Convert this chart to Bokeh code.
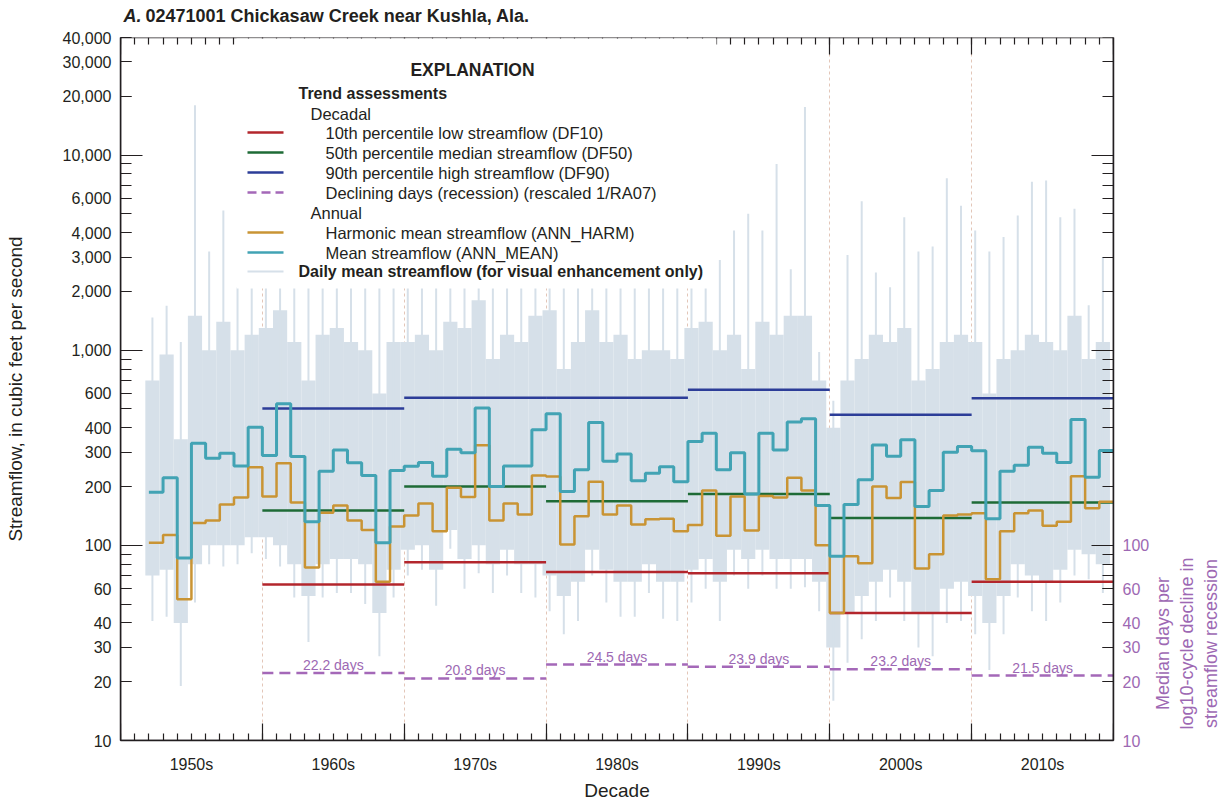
import math
from bokeh.plotting import figure
from bokeh.layouts import row, column
from bokeh.models import (Range1d, LinearAxis, LogAxis, FixedTicker, Label,
                          BoxAnnotation, Arrow, ColumnDataSource)
from bokeh.core.properties import value
from bokeh.embed import file_html
from bokeh.resources import INLINE

# ---------------- data ----------------
years = list(range(1952, 2020))
ann_mean = [187, 222, 86, 333, 279, 296, 255, 403, 289, 531, 285, 132, 240, 308, 265, 228, 103, 242, 254,
            266, 226, 311, 298, 506, 200, 255, 255, 391, 472, 189, 244, 426, 270, 294, 214, 234, 253, 212, 340,
            375, 244, 298, 183, 375, 308, 429, 445, 160, 88, 162, 217, 327, 286, 348, 158, 191, 300, 321, 305,
            137, 240, 257, 318, 296, 266, 441, 223, 306]
ann_harm = [103, 113, 53, 130, 134, 162, 176, 251, 178, 263, 166, 77, 147, 160, 134, 120, 65, 125, 142,
            164, 118, 197, 177, 326, 134, 164, 144, 228, 225, 101, 141, 212, 144, 160, 128, 136, 137, 118, 127,
            191, 112, 178, 119, 179, 176, 222, 191, 100, 45, 88, 81, 200, 175, 211, 76, 90, 142, 144, 146,
            67, 118, 146, 151, 126, 132, 226, 155, 167]
# daily mean streamflow envelope per water year
daily_peak = [1470, 1690, 1100, 18000, 3200, 5200, 2100, 2200, 2200, 2200,
              2200, 2200, 2200, 2200, 2200, 2200, 2200, 2200, 2200, 2200,
              2200, 2200, 2200, 2200, 2200, 2200, 2200, 2200, 2200, 2200,
              2200, 2200, 2200, 2200, 2200, 2200, 2200, 2200, 2200, 2200,
              2900, 4100, 5000, 4100, 9000, 2600, 17600, 980, 550, 3070,
              5800, 2500, 2100, 4800, 3200, 3400, 7600, 5500, 4100, 3200,
              3800, 4900, 7300, 7400, 4800, 5300, 1700, 3000]
daily_core_hi = [700, 950, 350, 1500, 1000, 1400, 1000, 1200, 1300, 1600,
                 1100, 700, 1200, 1300, 1100, 1000, 600, 1100, 1100, 1200,
                 1000, 1400, 1300, 1800, 900, 1200, 1100, 1500, 1600, 800,
                 1100, 1600, 1100, 1200, 900, 1000, 1000, 900, 1300, 1400,
                 1000, 1200, 800, 1400, 1200, 1500, 1500, 700, 400, 700,
                 900, 1200, 1100, 1300, 700, 800, 1100, 1200, 1100, 600,
                 900, 1000, 1200, 1100, 1000, 1500, 900, 1100]
daily_core_lo = [70, 75, 40, 80, 100, 100, 100, 110, 110, 100,
                 80, 55, 80, 85, 85, 80, 45, 75, 95, 100,
                 75, 120, 85, 100, 80, 95, 80, 80, 70, 55,
                 65, 95, 75, 65, 65, 80, 65, 65, 75, 85,
                 65, 95, 85, 95, 85, 85, 85, 65, 30, 45,
                 55, 65, 75, 65, 45, 45, 60, 65, 55, 40,
                 55, 80, 70, 65, 75, 95, 90, 80]
daily_low = [41, 43, 19, 51, 80, 78, 80, 91, 85, 78,
             54, 32, 54, 57, 57, 50, 27, 54, 70, 75,
             49, 96, 60, 72, 57, 70, 57, 54, 46, 35,
             41, 70, 51, 43, 43, 57, 42, 41, 51, 60,
             41, 70, 60, 70, 60, 60, 61, 46, 16, 25,
             33, 41, 54, 41, 30, 27, 40, 41, 35, 23,
             35, 54, 46, 41, 51, 70, 67, 57]

decade_names = ["1950s", "1960s", "1970s", "1980s", "1990s", "2000s", "2010s"]
decade_starts = [1950, 1960, 1970, 1980, 1990, 2000, 2010]
trend_decades = [1960, 1970, 1980, 1990, 2000, 2010]
df10 = [63, 82, 73, 72, 45, 65]
df50 = [151, 200, 168, 183, 138, 166]
df90 = [502, 570, 570, 627, 467, 567]
recession_days = [22.2, 20.8, 24.5, 23.9, 23.2, 21.5]

y_ticks = [10, 20, 30, 40, 50, 60, 70, 80, 90,
           100, 200, 300, 400, 500, 600, 700, 800, 900,
           1000, 2000, 3000, 4000, 5000, 6000, 7000, 8000, 9000,
           10000, 20000, 30000, 40000]
y_decade_ticks = [10, 100, 1000, 10000]
y_labeled = [10, 20, 30, 40, 60, 100, 200, 300, 400, 600, 1000, 2000, 3000, 4000, 6000,
             10000, 20000, 30000, 40000]
right_labeled = [10, 20, 30, 40, 60, 100]

title_letter = "A."
title_text = "02471001 Chickasaw Creek near Kushla, Ala."
left_title = "Streamflow, in cubic feet per second"
right_title = "Median days per\nlog10-cycle decline in\nstreamflow recession"

# ---------------- styles ----------------
SANS = "Liberation Sans"
INK = "#231f20"
C_RED = "#b3262c"
C_GREEN = "#1e6b36"
C_BLUE = "#2c3d98"
C_PURPLE = "#a468b8"
C_PTEXT = "#9d68b3"
C_GOLD = "#c99434"
C_TEAL = "#42a3b4"
C_DAILY = "#d6e0e9"
C_GRID = "#e3c6b8"

X0, X1 = 1950, 2020
Y0, Y1 = 10, 40000
MAIN_W, SIDE_W, TITLE_H, TOTAL_H = 1152, 76, 30, 803
FRAME_L = 120


def blank_fig(w, h):
    f = figure(width=w, height=h, x_range=Range1d(0, 1), y_range=Range1d(0, 1),
               output_backend="svg", toolbar_location=None, title=None,
               x_axis_location=None, y_axis_location=None, min_border=0)
    f.outline_line_color = None
    f.background_fill_color = "white"
    f.border_fill_color = "white"
    for g in f.grid:
        g.visible = False
    return f


# ---------------- main figure ----------------
p = figure(width=MAIN_W, height=TOTAL_H - TITLE_H, y_axis_type="log",
           x_range=Range1d(X0, X1), y_range=Range1d(Y0, Y1),
           output_backend="svg", toolbar_location=None, title=None,
           min_border_left=FRAME_L, min_border_right=MAIN_W - 1113,
           min_border_top=37 - TITLE_H, min_border_bottom=63)
p.outline_line_color = None
p.background_fill_color = "white"
p.border_fill_color = "white"

# grid: decade boundaries dashed
p.ygrid.visible = False
p.xgrid.ticker = FixedTicker(ticks=decade_starts[1:])
p.xgrid.grid_line_color = C_GRID
p.xgrid.grid_line_dash = "3 3"
p.xgrid.grid_line_width = 1

# ---------------- daily envelope ----------------
dsrc = ColumnDataSource(dict(left=[y - 0.25 for y in years], right=[y + 0.75 for y in years],
                             mid=[y + 0.25 for y in years],
                             lo=daily_core_lo, hi=daily_core_hi,
                             peak=daily_peak, low=daily_low))
p.quad(left="left", right="right", bottom="lo", top="hi", source=dsrc,
       fill_color=C_DAILY, line_color=None)
p.segment(x0="mid", x1="mid", y0="low", y1="peak", source=dsrc,
          line_color=C_DAILY, line_width=2)

# ---------------- decadal trends ----------------
tsrc = ColumnDataSource(dict(x0=trend_decades, x1=[d + 10 for d in trend_decades],
                             mid=[d + 5 for d in trend_decades],
                             df10=df10, df50=df50, df90=df90, rec=recession_days,
                             rec_txt=[f"{v} days" for v in recession_days]))
p.segment(x0="x0", x1="x1", y0="df10", y1="df10", source=tsrc, line_color=C_RED, line_width=2.5)
p.segment(x0="x0", x1="x1", y0="df50", y1="df50", source=tsrc, line_color=C_GREEN, line_width=2.5)
p.segment(x0="x0", x1="x1", y0="df90", y1="df90", source=tsrc, line_color=C_BLUE, line_width=2.5)
p.segment(x0="x0", x1="x1", y0="rec", y1="rec", source=tsrc, line_color=C_PURPLE, line_width=2.5,
          line_dash="11 6")
p.text(x="mid", y="rec", text="rec_txt", source=tsrc, text_align="center",
       text_baseline="alphabetic", y_offset=-8, text_color=C_PTEXT,
       text_font=value(SANS), text_font_size="14px")

# ---------------- annual steps ----------------
step_x = years + [years[-1] + 1]
p.step(x=step_x, y=ann_harm + [ann_harm[-1]], mode="after", line_color=C_GOLD, line_width=2.5)
p.step(x=step_x, y=ann_mean + [ann_mean[-1]], mode="after", line_color=C_TEAL, line_width=3)


# ---------------- axes ----------------
def tick_axis(cls, loc, ticks, length, minor=None, minor_len=0, line=True):
    kw = dict(fixed_location=loc, major_tick_in=length, major_tick_out=0,
              major_label_text_color=None, major_label_standoff=0,
              major_label_text_font_size="8px",
              axis_line_color=INK if line else None, axis_line_width=1.5,
              major_tick_line_color=INK, major_tick_line_width=1.2)
    if minor is not None:
        kw.update(ticker=FixedTicker(ticks=ticks, minor_ticks=minor),
                  minor_tick_in=minor_len, minor_tick_out=0,
                  minor_tick_line_color=INK, minor_tick_line_width=1.2)
    else:
        kw.update(ticker=FixedTicker(ticks=ticks), minor_tick_line_color=None)
    return cls(**kw)


left = p.yaxis[0]
left.ticker = FixedTicker(ticks=y_labeled)
left.major_label_overrides = {v: f"{v:,}" for v in y_labeled}
left.major_tick_in = 11
left.major_tick_out = 0
left.major_tick_line_width = 1.2
left.minor_tick_line_color = None
left.major_label_standoff = 9
left.major_label_text_font = SANS
left.major_label_text_font_size = "16px"
left.major_label_text_color = INK
left.axis_label = left_title
left.axis_label_text_font = SANS
left.axis_label_text_font_style = "normal"
left.axis_label_text_font_size = "19px"
left.axis_label_text_color = INK
left.axis_label_standoff = 34
left.axis_line_width = 1.5
left.axis_line_color = INK
left.major_tick_line_color = INK
p.add_layout(tick_axis(LogAxis, X0, y_ticks, 11), "left")
p.add_layout(tick_axis(LogAxis, X0, y_decade_ticks, 22, line=False), "left")

right = LogAxis(ticker=FixedTicker(ticks=right_labeled),
                major_label_overrides={v: f"{v}" for v in right_labeled},
                major_tick_in=11, major_tick_out=0, minor_tick_line_color=None,
                major_label_standoff=9, major_label_text_font=SANS,
                major_label_text_font_size="16px", major_label_text_color=C_PTEXT,
                axis_line_width=1.5, axis_line_color=INK, major_tick_line_color=INK,
                major_tick_line_width=1.2)
p.add_layout(right, "right")
p.add_layout(tick_axis(LogAxis, X1, y_ticks, 11), "right")
p.add_layout(tick_axis(LogAxis, X1, y_decade_ticks[1:], 22, line=False), "right")

bottom = p.xaxis[0]
bottom.ticker = FixedTicker(ticks=[d + 5 for d in decade_starts])
bottom.major_label_overrides = {d + 5: n for d, n in zip(decade_starts, decade_names)}
bottom.major_tick_in = 0
bottom.major_tick_out = 0
bottom.minor_tick_line_color = None
bottom.major_label_standoff = 15
bottom.major_label_text_font = SANS
bottom.major_label_text_font_size = "16px"
bottom.major_label_text_color = INK
bottom.axis_label = "Decade"
bottom.axis_label_text_font = SANS
bottom.axis_label_text_font_style = "normal"
bottom.axis_label_text_font_size = "19px"
bottom.axis_label_text_color = INK
bottom.axis_label_standoff = 4
bottom.axis_line_width = 1.5
bottom.axis_line_color = INK
year_ticks = list(range(X0, X1 + 1))
p.add_layout(tick_axis(LinearAxis, Y0, decade_starts + [X1], 17, minor=year_ticks, minor_len=7), "below")
p.add_layout(tick_axis(LinearAxis, Y1, decade_starts + [X1], 17, minor=year_ticks, minor_len=7), "above")


# ---------------- explanation ----------------
def sx(xi):
    return xi - FRAME_L


def sy(yi):
    return 740 - yi


p.add_layout(BoxAnnotation(left=sx(236), right=sx(716), bottom=sy(288), top=sy(38),
                           left_units="screen", right_units="screen",
                           bottom_units="screen", top_units="screen",
                           fill_color="white", fill_alpha=1.0, line_color=None))


def lab(x, y, text, size="16.5px", style="normal", align="left", color=INK):
    p.add_layout(Label(x=sx(x), y=sy(y), x_units="screen", y_units="screen", text=text,
                       text_align=align, text_baseline="middle", text_font=SANS,
                       text_font_size=size, text_font_style=style, text_color=color))


def sample(y, color, width=2.5, dash="solid"):
    p.add_layout(Arrow(end=None, x_start=sx(247), y_start=sy(y), x_end=sx(283), y_end=sy(y),
                       start_units="screen", end_units="screen",
                       line_color=color, line_width=width, line_dash=dash))


lab(472, 69, "EXPLANATION", size="17.5px", style="bold", align="center")
lab(298, 93, "Trend assessments", size="16px", style="bold")
lab(310, 113, "Decadal")
rows = [(132, C_RED, "solid", "10th percentile low streamflow (DF10)"),
        (152, C_GREEN, "solid", "50th percentile median streamflow (DF50)"),
        (172, C_BLUE, "solid", "90th percentile high streamflow (DF90)"),
        (192, C_PURPLE, "9 5", "Declining days (recession) (rescaled 1/RA07)")]
for yy, c, d, t in rows:
    sample(yy, c, dash=d)
    lab(325, yy, t)
lab(310, 212, "Annual")
sample(232, C_GOLD)
lab(325, 232, "Harmonic mean streamflow (ANN_HARM)")
sample(252, C_TEAL)
lab(325, 252, "Mean streamflow (ANN_MEAN)")
sample(271, C_DAILY, width=2)
lab(298, 271, "Daily mean streamflow (for visual enhancement only)", size="16px", style="bold")

# ---------------- title strip (frame aligned with main frame) ----------------
tf = blank_fig(MAIN_W, TITLE_H)
tf.add_layout(Label(x=123 - FRAME_L, y=TITLE_H - 15, x_units="screen", y_units="screen",
                    text=title_letter, text_baseline="middle", text_font=SANS,
                    text_font_size="18px", text_font_style="bold italic", text_color=INK))
tf.add_layout(Label(x=145 - FRAME_L, y=TITLE_H - 15, x_units="screen", y_units="screen",
                    text=title_text, text_baseline="middle", text_font=SANS,
                    text_font_size="18px", text_font_style="bold", text_color=INK))

# ---------------- right-side title strip ----------------
sf = blank_fig(SIDE_W, TOTAL_H)
sf.add_layout(Label(x=1186 - MAIN_W, y=TOTAL_H - 643, x_units="screen", y_units="screen",
                    text=right_title, angle=math.pi / 2, text_align="center",
                    text_baseline="middle", text_font=SANS, text_font_size="18px",
                    text_color=C_PTEXT, text_line_height=1.2))

layout = row(column(tf, p, spacing=0), sf, spacing=0)
open("out.html", "w").write(file_html(layout, INLINE))
